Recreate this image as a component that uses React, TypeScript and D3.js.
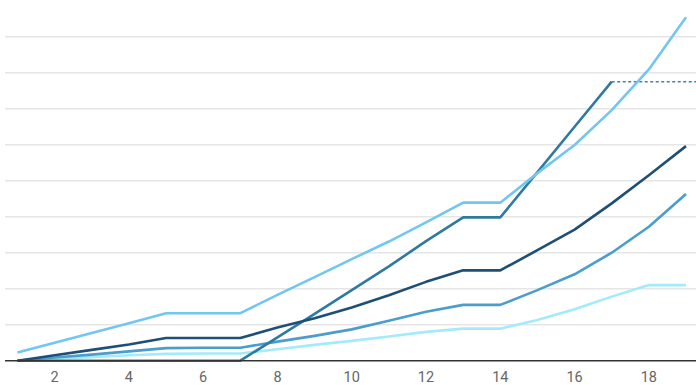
import * as d3 from "d3";
import { useEffect, useRef } from "react";

const steps = [1, 2, 3, 4, 5, 6, 7, 8, 9, 10, 11, 12, 13, 14, 15, 16, 17, 18, 19];
const tickLabels = [2, 4, 6, 8, 10, 12, 14, 16, 18];
const gridValues = [1, 2, 3, 4, 5, 6, 7, 8, 9];

// in gridline units
const seriesCyan = [0, 0.05, 0.1, 0.15, 0.19, 0.2, 0.2, 0.32, 0.44, 0.55, 0.67, 0.8, 0.89, 0.89, 1.13, 1.43, 1.78, 2.1, 2.1];
const seriesMid = [0, 0.09, 0.17, 0.26, 0.35, 0.36, 0.36, 0.53, 0.69, 0.87, 1.11, 1.36, 1.55, 1.55, 1.96, 2.4, 3.0, 3.72, 4.63];
const seriesNavy = [0, 0.15, 0.3, 0.45, 0.63, 0.63, 0.63, 0.92, 1.18, 1.48, 1.82, 2.19, 2.51, 2.51, 3.07, 3.64, 4.37, 5.15, 5.96];
const seriesLight = [0.23, 0.5, 0.77, 1.04, 1.32, 1.32, 1.32, 1.83, 2.32, 2.82, 3.31, 3.84, 4.39, 4.39, 5.21, 5.99, 6.96, 8.09, 9.54];
const seriesTeal = [0, 0, 0, 0, 0, 0, 0, 0.65, 1.3, 1.96, 2.62, 3.32, 3.98, 3.98, 5.24, 6.5, 7.75];

export default function App() {
  const svgRef = useRef<SVGSVGElement>(null);
  const width = 696;
  const height = 385;

  useEffect(() => {
    document.body.style.margin = "0";
    const svg = d3.select(svgRef.current);
    svg.selectAll("*").remove();

    const x = d3.scaleLinear().domain([1, 19]).range([17.5, 686]);
    const y = d3.scaleLinear().domain([0, 10]).range([360.7, 0.7]);

    // grid
    svg.append("g")
      .selectAll("line")
      .data(gridValues)
      .join("line")
      .attr("x1", 5)
      .attr("x2", width)
      .attr("y1", (d) => y(d))
      .attr("y2", (d) => y(d))
      .attr("stroke", "#e5e5e5")
      .attr("stroke-width", 1.5);

    const line = d3.line<number>()
      .x((_, i) => x(steps[i]))
      .y((d) => y(d));

    const series = [
      { values: seriesCyan, color: "#a3ebfa" },
      { values: seriesMid, color: "#4b9dcb" },
      { values: seriesTeal, color: "#2f7aa0" },
      { values: seriesNavy, color: "#1e4f74" },
      { values: seriesLight, color: "#72c6ef" },
    ];

    // dotted continuation of the teal line
    const last = seriesTeal[seriesTeal.length - 1];
    svg.append("line")
      .attr("x1", x(steps[seriesTeal.length - 1]))
      .attr("x2", width)
      .attr("y1", y(last))
      .attr("y2", y(last))
      .attr("stroke", "#3b82ad")
      .attr("stroke-width", 1.6)
      .attr("stroke-dasharray", "3,2.5");

    series.forEach((s) => {
      svg.append("path")
        .attr("d", line(s.values))
        .attr("fill", "none")
        .attr("stroke", s.color)
        .attr("stroke-width", 2.6)
        .attr("stroke-linejoin", "round");
    });

    // baseline
    svg.append("line")
      .attr("x1", 5)
      .attr("x2", width)
      .attr("y1", y(0))
      .attr("y2", y(0))
      .attr("stroke", "#333")
      .attr("stroke-width", 1.5);

    svg.append("g")
      .selectAll("text")
      .data(tickLabels)
      .join("text")
      .attr("x", (d) => x(d))
      .attr("y", 382)
      .attr("text-anchor", "middle")
      .attr("font-family", "Roboto, sans-serif")
      .attr("font-size", 14.5)
      .attr("fill", "#666")
      .text((d) => d);
  }, []);

  return (
    <svg
      ref={svgRef}
      width={width}
      height={height}
      style={{ display: "block", background: "#fff" }}
    />
  );
}
